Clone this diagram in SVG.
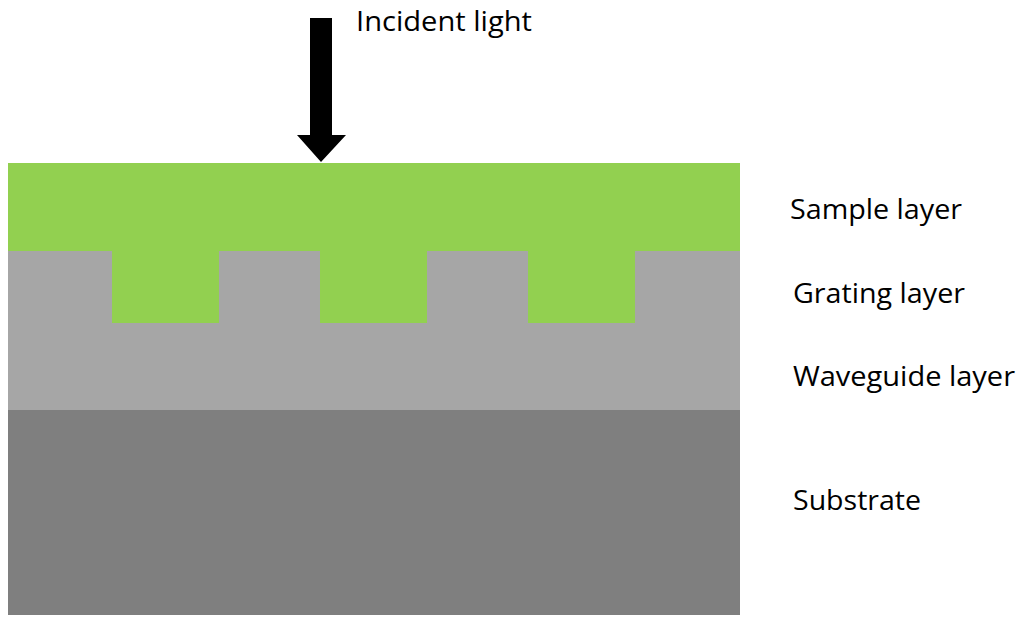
<svg xmlns="http://www.w3.org/2000/svg" width="1024" height="624" viewBox="0 0 1024 624">
<style>text{font-family:"Open Sans","Liberation Sans",sans-serif;font-size:26.5px;fill:#000}</style>
<rect width="1024" height="624" fill="#fff"/>
<rect x="8" y="163" width="732" height="88" fill="#92d050"/>
<rect x="8" y="251" width="732" height="159" fill="#a6a6a6"/>
<g fill="#92d050"><rect x="112" y="250" width="107" height="73"/><rect x="320" y="250" width="107" height="73"/><rect x="528" y="250" width="107" height="73"/></g>
<rect x="8" y="410" width="732" height="205" fill="#7f7f7f"/>
<polygon points="310,18 332,18 332,135 346,135 321,162 297,135 310,135" fill="#000"/>
<text x="356" y="31" textLength="176" lengthAdjust="spacingAndGlyphs">Incident light</text>
<text x="790" y="219" textLength="172" lengthAdjust="spacingAndGlyphs">Sample layer</text>
<text x="793" y="303" textLength="172" lengthAdjust="spacingAndGlyphs">Grating layer</text>
<text x="793" y="386" textLength="222" lengthAdjust="spacingAndGlyphs">Waveguide layer</text>
<text x="793" y="510" textLength="128" lengthAdjust="spacingAndGlyphs">Substrate</text>
</svg>
